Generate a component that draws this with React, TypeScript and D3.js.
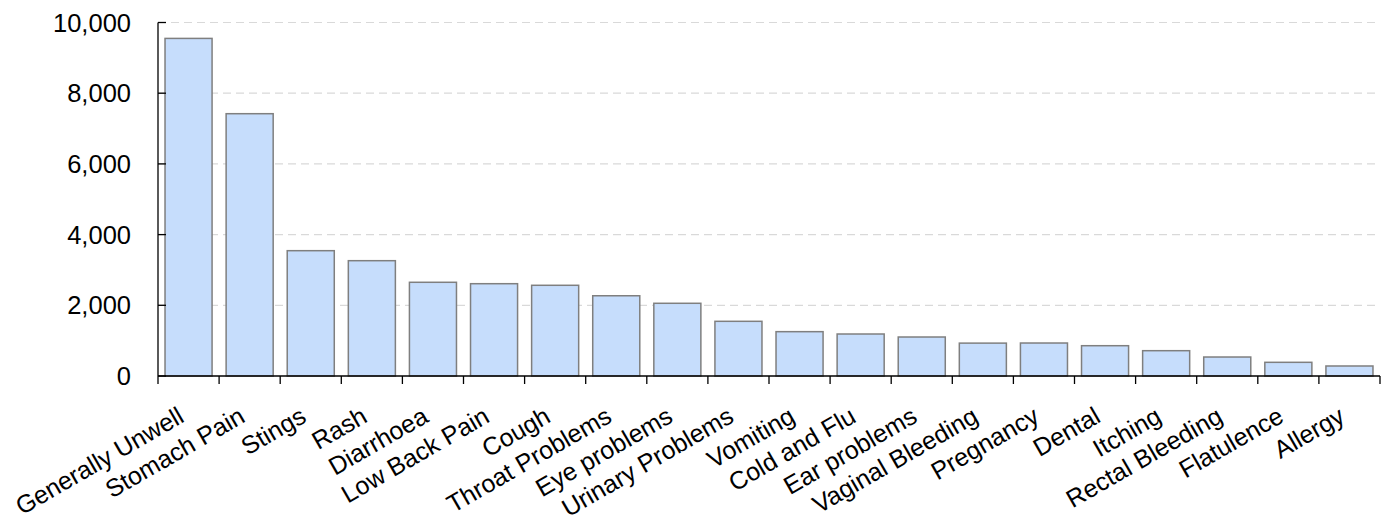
import React from "react";
import * as d3 from "d3";

const categories = [
  "Generally Unwell", "Stomach Pain", "Stings", "Rash", "Diarrhoea", "Low Back Pain", "Cough",
  "Throat Problems", "Eye problems", "Urinary Problems", "Vomiting", "Cold and Flu", "Ear problems",
  "Vaginal Bleeding", "Pregnancy", "Dental", "Itching", "Rectal Bleeding", "Flatulence", "Allergy",
];
const values = [
  9550, 7420, 3545, 3262, 2651, 2611, 2566, 2270, 2057, 1547, 1254, 1188, 1103, 930, 933, 857, 716, 537, 387, 283,
];
const yTicks = [0, 2000, 4000, 6000, 8000, 10000];

const W = 1388, H = 528;
const left = 158, right = 1380, top = 22.5, bottom = 376;
const FONT = "'Liberation Sans', Arial, sans-serif";

export default function App() {
  const x = d3.scaleBand<string>().domain(categories).range([left, right]).paddingInner(0.23).paddingOuter(0.115);
  const xStep = d3.scaleBand<string>().domain(categories).range([left, right]);
  const y = d3.scaleLinear().domain([0, 10000]).range([bottom, top]);
  const fmt = d3.format(",");
  const boundaries = d3.range(categories.length + 1).map((i) => left + i * xStep.step());

  return (
    <svg width={W} height={H} style={{ position: "absolute", left: 0, top: 0, background: "#fff" }}>
      {yTicks.filter((t) => t > 0).map((t) => (
        <line key={"g" + t} x1={left} x2={right} y1={y(t)} y2={y(t)} stroke="#d9d9d9" strokeWidth={1.2} strokeDasharray="8,5" />
      ))}
      {categories.map((c, i) => (
        <rect key={c} x={x(c)} y={y(values[i])} width={x.bandwidth()} height={bottom - y(values[i])}
          fill="#c6ddfc" stroke="#7f7f7f" strokeWidth={1.5} />
      ))}
      <line x1={left} x2={left} y1={top} y2={bottom} stroke="#000" strokeWidth={1.3} />
      <line x1={left} x2={right} y1={bottom} y2={bottom} stroke="#000" strokeWidth={1.3} />
      {yTicks.map((t) => (
        <g key={"y" + t}>
          <line x1={left} x2={left + 8} y1={y(t)} y2={y(t)} stroke="#000" strokeWidth={1.3} />
          <text x={131} y={y(t)} dy="0.36em" textAnchor="end" fontFamily={FONT} fontSize={25.5} fill="#000">{fmt(t)}</text>
        </g>
      ))}
      {boundaries.map((bx, i) => (
        <line key={"xt" + i} x1={bx} x2={bx} y1={bottom} y2={bottom + 8} stroke="#000" strokeWidth={1.3} />
      ))}
      {categories.map((c) => {
        const cx = (xStep(c) as number) + xStep.bandwidth() / 2;
        return (
          <text key={"l" + c} transform={`translate(${cx - 3},${bottom + 45}) rotate(-30)`} textAnchor="end"
            fontFamily={FONT} fontSize={25} fill="#000">{c}</text>
        );
      })}
    </svg>
  );
}
